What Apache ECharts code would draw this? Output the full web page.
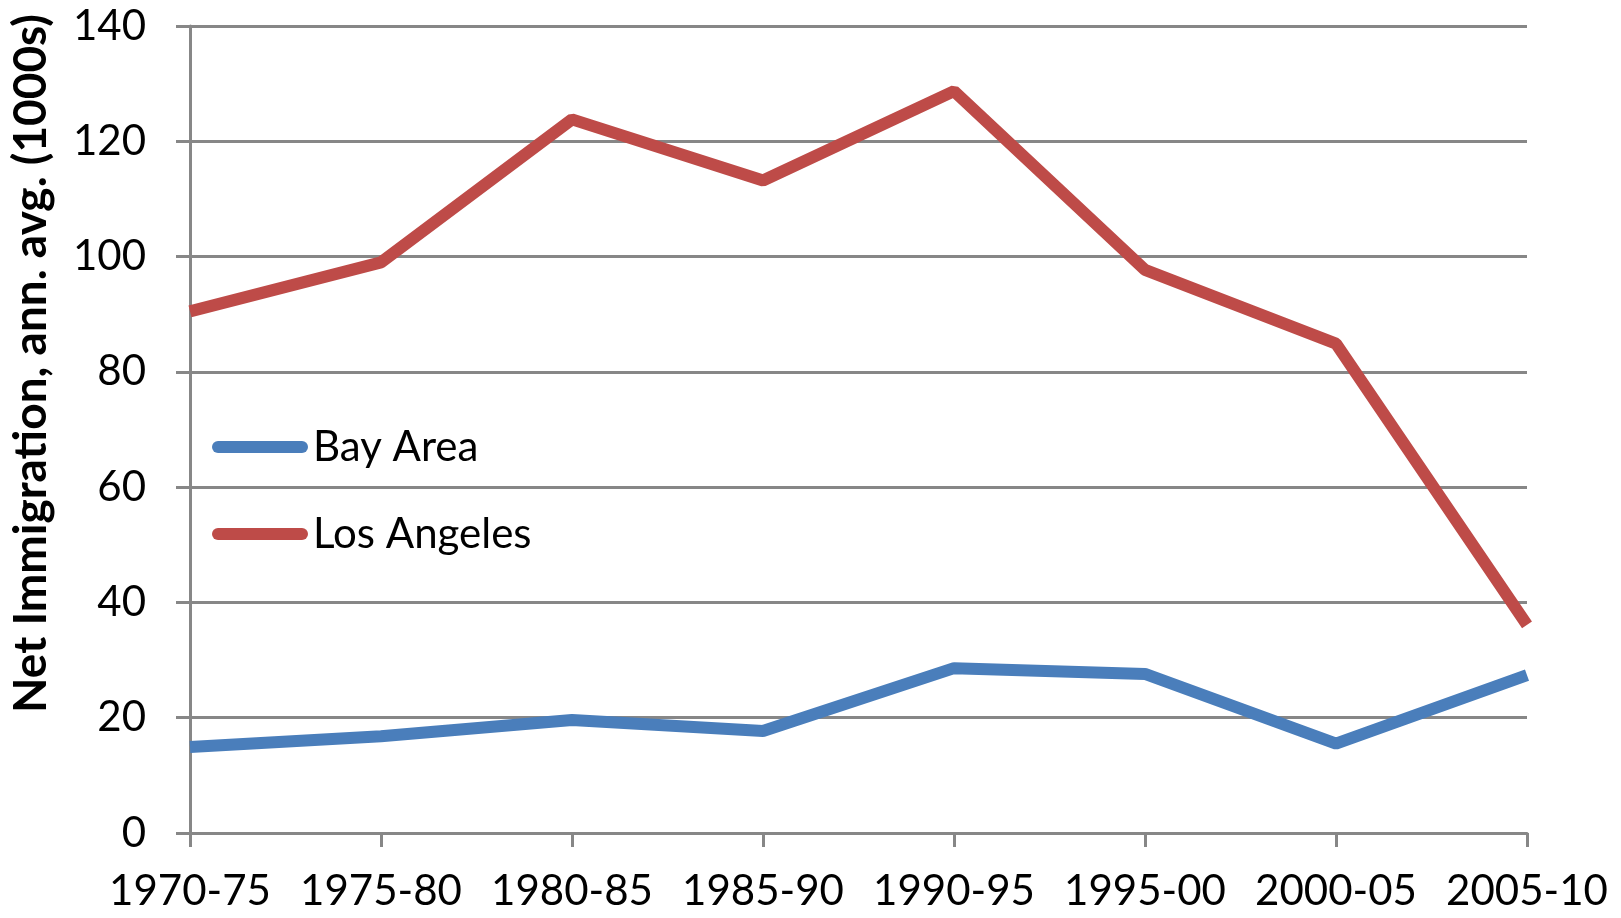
<!DOCTYPE html>
<html>
<head>
<meta charset="utf-8">
<script src="https://cdn.jsdelivr.net/npm/echarts@6/dist/echarts.min.js"></script>
<style>
html,body{margin:0;padding:0;background:#fff;}
#chart{width:1621px;height:918px;}
</style>
</head>
<body>
<div id="chart"></div>
<script>
var categories = ['1970-75','1975-80','1980-85','1985-90','1990-95','1995-00','2000-05','2005-10'];
var bayArea = [14.9, 16.8, 19.6, 17.7, 28.6, 27.6, 15.5, 27.4];
var losAngeles = [90.5, 99.0, 123.8, 113.2, 128.7, 97.7, 84.9, 36.1];
var seriesNames = ['Bay Area', 'Los Angeles'];
var yAxisTitle = 'Net Immigration, ann. avg. (1000s)';

var chart = echarts.init(document.getElementById('chart'), null, {renderer: 'canvas'});
var FONT = 'Lato, "Open Sans", sans-serif';
var GRAY = '#878787';
var legendIcon = 'path://M6,0L90,0A6,6,0,0,1,90,12L6,12A6,6,0,0,1,6,0Z';

chart.setOption({
  animation: false,
  backgroundColor: '#ffffff',
  textStyle: {fontFamily: FONT},
  grid: {left: 189, right: 94, top: 26, bottom: 85, containLabel: false},
  legend: {
    orient: 'vertical',
    left: 207,
    top: 421,
    itemWidth: 96,
    itemHeight: 12,
    itemGap: 45,
    icon: legendIcon,
    data: seriesNames,
    textStyle: {fontFamily: FONT, fontSize: 42, color: '#000'}
  },
  xAxis: {
    type: 'category',
    data: categories,
    boundaryGap: false,
    axisLine: {lineStyle: {color: GRAY, width: 3}},
    axisTick: {show: true, length: 14, inside: false, lineStyle: {color: GRAY, width: 3}, alignWithLabel: true},
    axisLabel: {fontFamily: FONT, fontSize: 42, color: '#000', margin: 37, interval: 0},
    splitLine: {show: false}
  },
  yAxis: {
    type: 'value',
    min: 0,
    max: 140,
    interval: 20,
    name: yAxisTitle,
    nameLocation: 'middle',
    nameGap: 136,
    nameTextStyle: {fontFamily: FONT, fontSize: 46, fontWeight: 'bold', color: '#000', padding: [0, 0, 0, 132]},
    axisLine: {show: true, lineStyle: {color: GRAY, width: 3}},
    axisTick: {show: true, length: 14, inside: false, lineStyle: {color: GRAY, width: 3}},
    axisLabel: {fontFamily: FONT, fontSize: 42, color: '#000', margin: 44},
    splitLine: {show: true, lineStyle: {color: GRAY, width: 3}}
  },
  series: [
    {
      name: seriesNames[0],
      type: 'line',
      data: bayArea,
      symbol: 'none',
      color: '#4a7ebb',
      lineStyle: {color: '#4a7ebb', width: 12},
      z: 3
    },
    {
      name: seriesNames[1],
      type: 'line',
      data: losAngeles,
      symbol: 'none',
      color: '#be4b48',
      lineStyle: {color: '#be4b48', width: 12},
      z: 3
    }
  ]
});
</script>
</body>
</html>
